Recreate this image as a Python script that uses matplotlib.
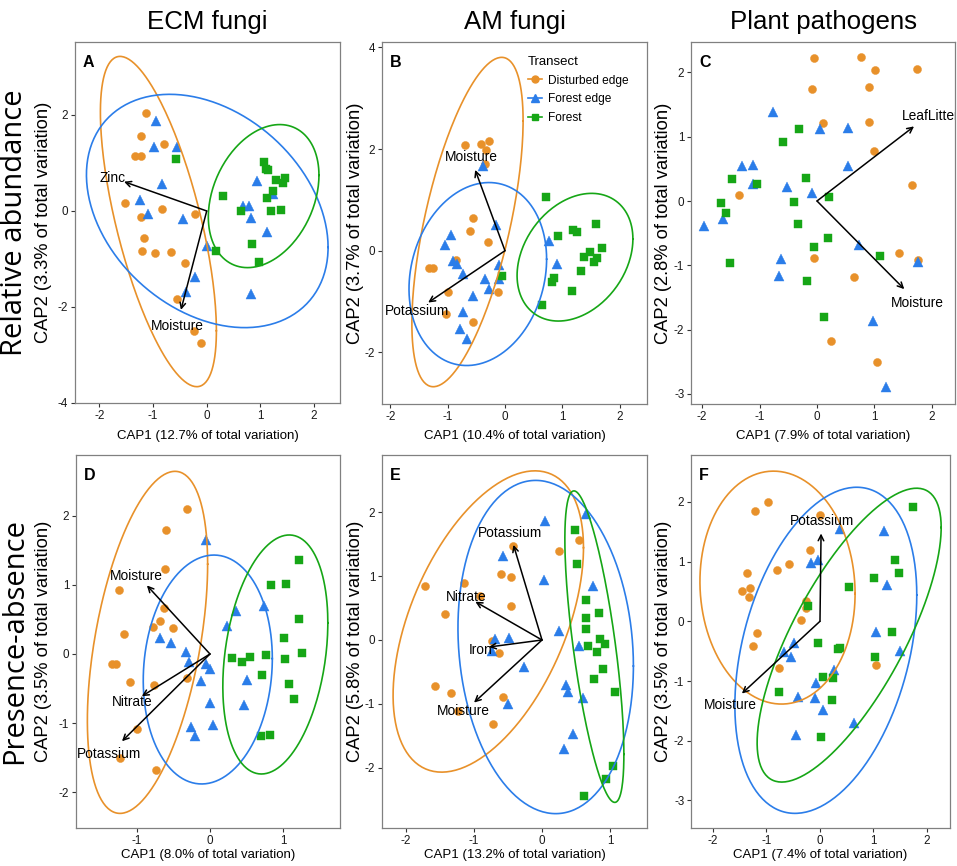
import numpy as np
import matplotlib
matplotlib.use("Agg")
import matplotlib.pyplot as plt
from matplotlib.lines import Line2D

# ---------------- data ----------------
GROUPS = ["Disturbed edge", "Forest edge", "Forest"]
COL_TITLES = ["ECM fungi", "AM fungi", "Plant pathogens"]
ROW_TITLES = ["Relative abundance", "Presence-absence"]
PANEL_LETTERS = ["A", "B", "C", "D", "E", "F"]
XLABELS = ["CAP1 (12.7% of total variation)", "CAP1 (10.4% of total variation)", "CAP1 (7.9% of total variation)",
           "CAP1 (8.0% of total variation)", "CAP1 (13.2% of total variation)", "CAP1 (7.4% of total variation)"]
YLABELS = ["CAP2 (3.3% of total variation)", "CAP2 (3.7% of total variation)", "CAP2 (2.8% of total variation)",
           "CAP2 (3.5% of total variation)", "CAP2 (5.8% of total variation)", "CAP2 (3.5% of total variation)"]
XTICKS = [[-2, -1, 0, 1, 2], [-2, -1, 0, 1, 2], [-2, -1, 0, 1, 2], [-1, 0, 1], [-2, -1, 0, 1], [-2, -1, 0, 1, 2]]
YTICKS = [[-4, -2, 0, 2], [-2, 0, 2, 4], [-3, -2, -1, 0, 1, 2], [-2, -1, 0, 1, 2], [-2, -1, 0, 1, 2], [-3, -2, -1, 0, 1, 2]]
XLIMS = [(-2.453, 2.482), (-2.145, 2.477), (-2.194, 2.403), (-1.827, 1.773), (-2.353, 1.544), (-2.411, 2.43)]
YLIMS = [(-4.0, 3.52), (-3.016, 4.106), (-3.156, 2.472), (-2.513, 2.874), (-2.945, 2.898), (-3.461, 2.784)]

# panel A
A_DIST = [(-1.13, 2.04), (-1.23, 1.56), (-0.79, 1.40), (-1.34, 1.14), (-1.23, 1.14), (-1.53, 0.17), (-1.23, -0.125),
          (-0.84, 0.04), (-0.22, -0.06), (-1.17, -0.56), (-1.20, -0.84), (-0.96, -0.87), (-0.66, -0.85), (-0.40, -1.09),
          (-0.56, -1.84), (-0.23, -2.51), (-0.10, -2.74)]
A_FEDGE = [(-0.94, 1.88), (-0.99, 1.34), (-0.56, 1.33), (-0.83, 0.56), (-1.25, 0.22), (-1.09, -0.06), (-0.45, -0.17),
           (0.0, -0.73), (-0.22, -1.37), (-0.39, -1.68), (0.93, 0.62), (1.23, 0.35), (0.68, 0.11), (0.79, 0.11),
           (0.83, -0.15), (1.12, -0.44), (0.83, -1.73)]
A_FOREST = [(-0.58, 1.08), (1.06, 1.01), (1.11, 0.875), (1.15, 0.85), (1.29, 0.65), (1.46, 0.68), (1.42, 0.58),
            (1.24, 0.41), (1.13, 0.26), (0.30, 0.31), (0.63, 0.0), (1.20, 0.0), (1.39, 0.02), (0.84, -0.69),
            (0.17, -0.83), (0.98, -1.07)]
A_ELL = [(-0.90, -0.22, 1.08, 3.44, -0.714), (0.01, 0.0, 2.25, 2.43, -0.70), (1.06, 0.31, 1.03, 1.49, 0.30)]
A_VEC = [("Zinc", -1.54, 0.61), ("Moisture", -0.48, -2.06)]
A_VEC_LABEL = [(-1.76, 0.68), (-0.55, -2.39)]

# panel B
B_DIST = [(-0.69, 2.07), (-0.42, 2.09), (-0.28, 2.15), (-0.33, 1.98), (-0.35, 1.70), (-0.56, 0.65), (-0.61, 0.39),
          (-0.30, 0.18), (-0.85, -0.18), (-1.32, -0.34), (-1.26, -0.34), (-0.99, -0.81), (-0.13, -0.81),
          (-1.03, -1.25), (-0.55, -1.40)]
B_FEDGE = [(-0.38, 1.67), (-0.16, 0.50), (-0.95, 0.31), (-1.04, 0.12), (-0.91, -0.21), (-0.83, -0.27), (-0.74, -0.45),
           (-0.10, -0.29), (-0.34, -0.56), (-0.10, -0.56), (-0.28, -0.75), (-0.55, -0.90), (-0.73, -1.21),
           (-0.78, -1.54), (-0.67, -1.74), (0.76, 0.20), (0.90, -0.26)]
B_FOREST = [(-0.06, -0.49), (0.71, 1.06), (0.93, 0.28), (1.18, 0.41), (1.26, 0.36), (1.59, 0.53), (1.69, 0.06),
            (1.49, -0.02), (1.37, -0.13), (1.60, -0.14), (1.55, -0.23), (1.32, -0.40), (0.85, -0.54), (0.82, -0.62),
            (1.17, -0.79), (0.64, -1.07)]
B_ELL = [(-0.654, 0.564, 0.97, 3.24, 0.596), (-0.474, -0.459, 1.20, 1.80, 0.195), (1.221, -0.128, 1.01, 1.256, 0.29)]
B_VEC = [("Moisture", -0.52, 1.59), ("Potassium", -1.34, -1.02)]
B_VEC_LABEL = [(-0.58, 1.84), (-1.53, -1.18)]

# panel C
C_DIST = [(-0.06, 2.22), (0.77, 2.24), (1.01, 2.03), (1.75, 2.06), (-0.09, 1.74), (0.91, 1.78), (0.10, 1.22),
          (0.90, 1.23), (1.00, 0.77), (-1.35, 0.10), (1.65, 0.25), (1.42, -0.81), (1.76, -0.92), (-0.05, -0.88),
          (0.65, -1.18), (0.24, -2.17), (1.05, -2.50)]
C_FEDGE = [(-0.76, 1.39), (0.05, 1.12), (0.54, 1.13), (-1.30, 0.54), (-1.12, 0.56), (-1.11, 0.26), (-0.52, 0.21),
           (-0.09, 0.13), (0.54, 0.55), (-1.63, -0.28), (-1.97, -0.39), (0.73, -0.69), (1.76, -0.95), (-0.62, -0.90),
           (-0.67, -1.17), (0.97, -1.87), (1.20, -2.89)]
C_FOREST = [(-0.31, 1.12), (-0.60, 0.92), (-1.48, 0.34), (-1.05, 0.26), (-0.20, 0.36), (0.21, 0.06), (-1.67, -0.03),
            (-1.59, -0.18), (-0.40, -0.01), (-0.33, -0.35), (0.19, -0.58), (-0.05, -0.72), (1.10, -0.85),
            (-1.51, -0.97), (-0.17, -1.24), (0.13, -1.80)]
C_ELL = []
C_VEC = [("LeafLitter", 1.69, 1.16), ("Moisture", 1.52, -1.37)]
C_VEC_LABEL = [(1.97, 1.32), (1.74, -1.59)]

# panel D
D_DIST = [(-0.31, 2.10), (-0.60, 1.79), (-0.62, 1.23), (-1.24, 0.92), (-0.63, 0.67), (-0.68, 0.47), (-0.78, 0.39),
          (-0.51, 0.38), (-1.17, 0.29), (-1.34, -0.14), (-1.28, -0.14), (-1.09, -0.41), (-0.77, -0.45),
          (-0.31, -0.35), (-0.99, -1.08), (-1.23, -1.50), (-0.74, -1.68)]
D_FEDGE = [(-0.06, 1.64), (-0.68, 0.23), (-0.53, 0.16), (-0.33, 0.03), (-0.29, -0.11), (-0.05, -0.15), (0.0, -0.21),
           (-0.12, -0.39), (0.0, -0.71), (-0.26, -1.06), (-0.20, -1.18), (0.04, -1.03), (0.23, 0.41), (0.36, 0.62),
           (0.74, 0.70), (0.50, -0.38), (0.46, -0.74)]
D_FOREST = [(1.21, 1.36), (0.83, 0.99), (1.03, 1.01), (1.21, 0.50), (1.01, 0.23), (1.25, 0.01), (1.02, -0.07),
            (0.77, -0.01), (0.54, -0.05), (0.44, -0.11), (0.30, -0.06), (0.71, -0.31), (1.08, -0.43), (1.15, -0.65),
            (0.70, -1.19), (0.82, -1.17)]
D_ELL = [(-0.852, 0.168, 0.82, 2.47, 0.375), (-0.03, -0.224, 0.88, 1.653, 0.084), (0.891, -0.007, 0.716, 1.726, 0.19)]
D_VEC = [("Moisture", -0.86, 0.99), ("Nitrate", -0.93, -0.61), ("Potassium", -1.20, -1.26)]
D_VEC_LABEL = [(-1.0, 1.12), (-1.06, -0.70), (-1.38, -1.45)]

# panel E
E_DIST = [(0.55, 1.57), (0.25, 1.39), (-0.42, 1.47), (-0.60, 1.04), (-0.45, 0.99), (-1.14, 0.89), (-1.72, 0.84),
          (-0.91, 0.69), (-0.46, 0.53), (-1.43, 0.41), (-0.73, -0.01), (-0.63, -0.20), (-1.58, -0.72),
          (-1.34, -0.83), (-0.57, -0.89), (-1.23, -1.11), (-0.72, -1.32)]
E_FEDGE = [(0.05, 1.86), (0.64, 1.97), (-0.58, 1.31), (0.03, 0.94), (0.75, 0.84), (0.25, 0.14), (-0.69, 0.02),
           (-0.48, 0.03), (-0.74, -0.18), (0.55, -0.10), (-0.26, -0.42), (0.35, -0.71), (0.38, -0.81), (0.60, -0.91),
           (-0.50, -1.00), (0.45, -1.47), (0.33, -1.71)]
E_FOREST = [(0.48, 1.73), (0.51, 1.19), (0.65, 0.63), (0.84, 0.42), (0.65, 0.35), (0.64, 0.17), (0.68, -0.10),
            (0.85, 0.02), (0.92, -0.07), (0.81, -0.19), (0.89, -0.46), (0.76, -0.61), (1.07, -0.82), (1.05, -1.97),
            (0.94, -2.17), (0.62, -2.44)]
E_ELL = [(-0.79, 0.29, 1.40, 2.36, 0.686), (0.054, -0.11, 1.29, 2.61, -0.147), (0.77, -0.104, 0.434, 2.44, -0.30)]
E_VEC = [("Potassium", -0.42, 1.49), ("Nitrate", -0.98, 0.60), ("Iron", -0.78, -0.11), ("Moisture", -1.00, -0.98)]
E_VEC_LABEL = [(-0.47, 1.68), (-1.12, 0.68), (-0.90, -0.16), (-1.15, -1.12)]

# panel F
F_DIST = [(-0.97, 2.00), (-1.21, 1.84), (0.0, 1.78), (-0.19, 1.19), (-0.57, 0.96), (-0.81, 0.86), (-1.36, 0.81),
          (-1.30, 0.56), (-1.45, 0.51), (-1.33, 0.41), (-0.27, 0.34), (-0.27, 0.22), (-0.35, 0.02), (-1.17, -0.19),
          (-1.26, -0.41), (-0.77, -0.78), (1.04, -0.74)]
F_FEDGE = [(0.37, 1.55), (1.19, 1.51), (-0.17, 0.97), (-0.03, 1.03), (1.26, 0.61), (1.04, -0.18), (1.50, -0.50),
           (-0.49, -0.37), (-0.67, -0.52), (-0.54, -0.59), (0.27, -0.82), (-0.08, -1.04), (-0.41, -1.27),
           (-0.09, -1.29), (0.05, -1.48), (0.63, -1.70), (-0.45, -1.91)]
F_FOREST = [(1.74, 1.91), (1.40, 1.03), (1.47, 0.81), (1.01, 0.73), (0.55, 0.57), (-0.22, 0.25), (1.35, -0.18),
            (-0.03, -0.36), (0.37, -0.45), (0.34, -0.47), (1.03, -0.59), (0.06, -0.93), (0.24, -0.95), (0.22, -1.31),
            (-0.77, -1.18), (0.01, -1.94)]
F_ELL = [(-0.794, 0.564, 1.45, 1.95, -0.075), (0.109, -0.486, 1.70, 2.73, 0.576), (0.545, -0.232, 1.72, 2.46, 1.26)]
F_VEC = [("Potassium", 0.02, 1.47), ("Moisture", -1.46, -1.21)]
F_VEC_LABEL = [(0.04, 1.68), (-1.68, -1.41)]

PANELS = [
    (A_DIST, A_FEDGE, A_FOREST, A_ELL, A_VEC, A_VEC_LABEL),
    (B_DIST, B_FEDGE, B_FOREST, B_ELL, B_VEC, B_VEC_LABEL),
    (C_DIST, C_FEDGE, C_FOREST, C_ELL, C_VEC, C_VEC_LABEL),
    (D_DIST, D_FEDGE, D_FOREST, D_ELL, D_VEC, D_VEC_LABEL),
    (E_DIST, E_FEDGE, E_FOREST, E_ELL, E_VEC, E_VEC_LABEL),
    (F_DIST, F_FEDGE, F_FOREST, F_ELL, F_VEC, F_VEC_LABEL),
]

# ---------------- style ----------------
COLORS = ["#E8912A", "#2B7DE9", "#16A616"]
MARKERS = ["o", "^", "s"]
MSIZES = [5.8, 6.6, 5.2]
HFONT = ["Liberation Sans", "DejaVu Sans"]
REG = ["Liberation Sans", "DejaVu Sans"]
TITLEF = ["Open Sans", "DejaVu Sans"]

plt.rcParams["axes.unicode_minus"] = False
plt.rcParams["font.family"] = HFONT

W, H = 957, 866
fig = plt.figure(figsize=(W / 100, H / 100), dpi=100)

BOXES = [(75, 42, 340, 403), (382, 42, 647, 404), (691, 42, 955, 404),
         (76, 455, 340, 828), (382, 455, 647, 828), (691, 455, 950, 828)]
YLAB_X = [44, 356, 664, 44, 356, 664]
XLAB_Y = [436, 436, 436, 855, 855, 855]


def fxy(px, py):
    return px / W, 1 - py / H


def ellipse_xy(cx, cy, hw, hh, dxt, n=240):
    cov = np.array([[hw ** 2, dxt * hh], [dxt * hh, hh ** 2]])
    L = np.linalg.cholesky(cov)
    t = np.linspace(0, 2 * np.pi, n)
    p = L @ np.vstack([np.cos(t), np.sin(t)])
    return cx + p[0], cy + p[1]


axes = []
for i, (box, pdata) in enumerate(zip(BOXES, PANELS)):
    l, t, r, b = box
    ax = fig.add_axes([l / W, 1 - b / H, (r - l) / W, (b - t) / H])
    axes.append(ax)
    groups = pdata[:3]
    ells, vecs, vlabs = pdata[3], pdata[4], pdata[5]
    for g, pts in enumerate(groups):
        arr = np.array(pts)
        ax.plot(arr[:, 0], arr[:, 1], linestyle="none", marker=MARKERS[g], ms=MSIZES[g],
                color=COLORS[g], mec=COLORS[g], mew=0.3, zorder=3)
    for g, e in enumerate(ells):
        ex, ey = ellipse_xy(*e)
        ax.plot(ex, ey, color=COLORS[g], lw=1.2, zorder=4)
    for (name, vx, vy), (lx, ly) in zip(vecs, vlabs):
        ax.annotate("", xy=(vx, vy), xytext=(0, 0),
                    arrowprops=dict(arrowstyle="->,head_length=0.4,head_width=0.2", color="black",
                                    lw=1.1, shrinkA=0, shrinkB=0), zorder=5)
        ax.text(lx, ly, name, ha="center", va="center", fontsize=9.9, color="black",
                family=HFONT, zorder=6, clip_on=True)
    ax.set_xlim(*XLIMS[i])
    ax.set_ylim(*YLIMS[i])
    ax.set_xticks(XTICKS[i])
    ax.set_yticks(YTICKS[i])
    ax.set_xticklabels([str(v) for v in XTICKS[i]])
    ax.set_yticklabels([str(v) for v in YTICKS[i]])
    ax.tick_params(direction="out", length=3, width=0.8, color="#333333", labelsize=8.4,
                   labelcolor="#1a1a1a", pad=1.8)
    for s in ax.spines.values():
        s.set_color("#808080")
        s.set_linewidth(0.9)
    ax.text(0.03, 0.965, PANEL_LETTERS[i], transform=ax.transAxes, ha="left", va="top",
            fontsize=11.5, fontweight="bold", family=REG, color="black")
    cx = (l + r) / 2
    cy = (t + b) / 2
    x0, y0 = fxy(cx, XLAB_Y[i])
    fig.text(x0, y0, XLABELS[i], ha="center", va="center", fontsize=9.5, family=HFONT, color="black")
    x1, y1 = fxy(YLAB_X[i], cy)
    fig.text(x1, y1, YLABELS[i], ha="center", va="center", rotation=90, fontsize=13.2, family=REG,
             color="black")

# column titles
for j, title in enumerate(COL_TITLES):
    l, t, r, b = BOXES[j]
    x0, y0 = fxy((l + r) / 2, 22)
    fig.text(x0, y0, title, ha="center", va="center", fontsize=18.6, family=HFONT, color="black")

# row titles
for k, title in enumerate(ROW_TITLES):
    l, t, r, b = BOXES[3 * k]
    x0, y0 = fxy(15, (t + b) / 2)
    fig.text(x0, y0, title, ha="center", va="center", rotation=90, fontsize=21, family=TITLEF, color="black")

# legend in panel B
handles = [Line2D([0], [0], color=COLORS[g], marker=MARKERS[g], ms=MSIZES[g] - 0.8, lw=1.2)
           for g in range(3)]
lx, ly = fxy(528, 56)
leg = axes[1].legend(handles, GROUPS, title="Transect", loc="upper left", bbox_to_anchor=(lx, ly),
                     bbox_transform=fig.transFigure, frameon=False, prop={"family": HFONT, "size": 8.6},
                     title_fontproperties={"family": HFONT, "size": 9.5}, handlelength=1.2,
                     handletextpad=0.5, labelspacing=0.55, borderpad=0, borderaxespad=0, alignment="left")
leg.set_zorder(7)

fig.savefig("out.png", dpi=100)
